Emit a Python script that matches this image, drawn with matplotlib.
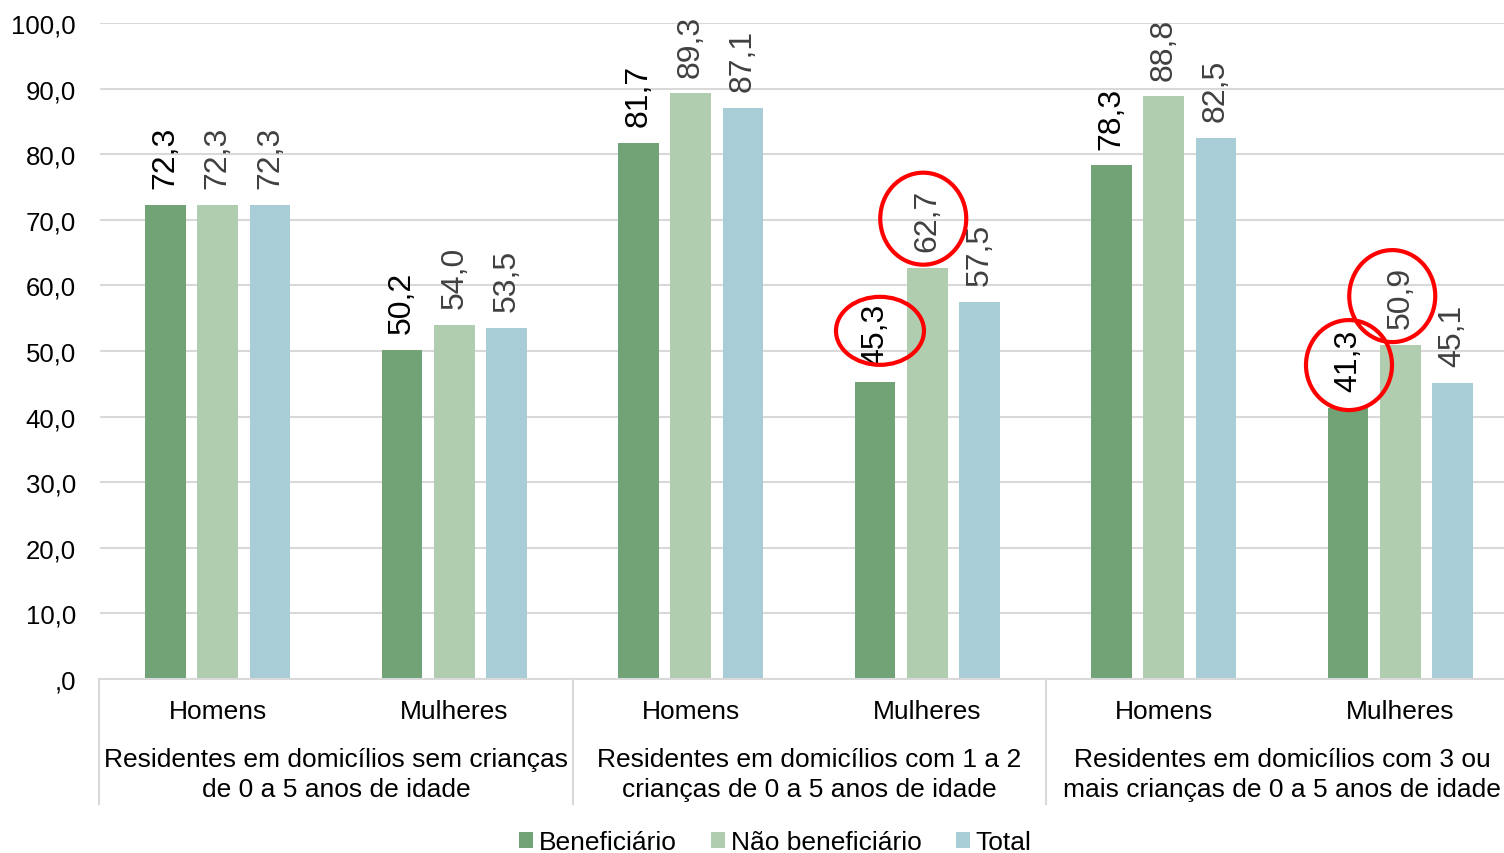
import matplotlib
matplotlib.use("Agg")
import matplotlib.pyplot as plt
from matplotlib.patches import Patch, Ellipse
from matplotlib.transforms import ScaledTranslation
import numpy as np

plt.rcParams['font.family'] = ['Liberation Sans', 'DejaVu Sans']

# ---- data ----
sexes = ["Homens", "Mulheres", "Homens", "Mulheres", "Homens", "Mulheres"]
groups = ["Residentes em domicílios sem crianças\nde 0 a 5 anos de idade",
          "Residentes em domicílios com 1 a 2\ncrianças de 0 a 5 anos de idade",
          "Residentes em domicílios com 3 ou\nmais crianças de 0 a 5 anos de idade"]
series_names = ["Beneficiário", "Não beneficiário", "Total"]
beneficiario = [72.3, 50.2, 81.7, 45.3, 78.3, 41.3]
nao_beneficiario = [72.3, 54.0, 89.3, 62.7, 88.8, 50.9]
total = [72.3, 53.5, 87.1, 57.5, 82.5, 45.1]
yticks = [0, 10, 20, 30, 40, 50, 60, 70, 80, 90, 100]
# highlighted labels: (category index, series index)
highlights = [(3, 0), (3, 1), (5, 0), (5, 1)]

colors = ["#71A376", "#B0CDB0", "#A9CDD6"]
label_colors = ["#000000", "#404040", "#404040"]

W, H = 1504, 854
fig = plt.figure(figsize=(W / 100, H / 100), dpi=100)
ax = fig.add_axes([99.5 / W, 174 / H, 1419 / W, 656 / H])

x = np.arange(len(sexes))
bw = 0.173
off = 0.221
all_series = [beneficiario, nao_beneficiario, total]
for i, vals in enumerate(all_series):
    ax.bar(x + (i - 1) * off, vals, width=bw, color=colors[i], zorder=3)
    for xi, v in zip(x + (i - 1) * off, vals):
        ax.annotate(f"{v:.1f}".replace(".", ","), (xi, v), xytext=(0, 12),
                    textcoords="offset points", rotation=90, ha="center",
                    va="bottom", fontsize=23, color=label_colors[i])


def fmt(t):
    s = ("%.1f" % t).replace(".", ",")
    return s[1:] if t == 0 else s


ax.set_xlim(-0.5, len(sexes) - 0.5)
ax.set_ylim(0, 100)
ax.set_yticks(yticks)
ax.set_yticklabels([fmt(t) for t in yticks], fontsize=18.5)
ax.tick_params(axis="y", length=0, pad=17)
ax.tick_params(axis="x", length=0, labelbottom=False)
ax.grid(axis="y", color="#D9D9D9", linewidth=1.5, zorder=0)
for s in ["left", "right", "top"]:
    ax.spines[s].set_visible(False)
ax.spines["bottom"].set_color("#D9D9D9")
ax.spines["bottom"].set_linewidth(1.5)
ax.spines["bottom"].set_zorder(4)

# category labels
trans = ax.get_xaxis_transform()
for xi, s in zip(x, sexes):
    ax.text(xi, -32 / 656, s, transform=trans, ha="center", va="center", fontsize=19)
for gi, g in enumerate(groups):
    ax.text(2 * gi + 0.5, -95 / 656, g, transform=trans, ha="center", va="center",
            fontsize=19, linespacing=1.3)
for b in [-0.5, 1.5, 3.5, 5.5]:
    ax.plot([b, b], [0, -125 / 656], transform=trans, color="#D9D9D9",
            linewidth=1.5, clip_on=False)

# red ellipses around highlighted labels (sizes in inches)
ell_geom = {(3, 0): (0.05, 0.51, 0.88, 0.68), (3, 1): (-0.04, 0.49, 0.86, 0.92),
            (5, 0): (0.01, 0.43, 0.86, 0.90), (5, 1): (-0.08, 0.49, 0.86, 0.92)}
for (ci, si) in highlights:
    xc = x[ci] + (si - 1) * off
    v = all_series[si][ci]
    dx, dy, ew, eh = ell_geom[(ci, si)]
    t = fig.dpi_scale_trans + ScaledTranslation(xc, v, ax.transData)
    e = Ellipse((dx, dy), ew, eh, transform=t, fill=False, edgecolor="#FF0000",
                linewidth=3, clip_on=False, zorder=5)
    ax.add_artist(e)

handles = [Patch(facecolor=c, edgecolor="none") for c in colors]
fig.legend(handles, series_names, loc="center", bbox_to_anchor=(775 / W, 1 - 843 / H),
           ncol=3, frameon=False, fontsize=19, handlelength=0.55, handleheight=0.55,
           handletextpad=0.2, columnspacing=1.3, borderpad=0)

fig.savefig("out.png", dpi=100)
